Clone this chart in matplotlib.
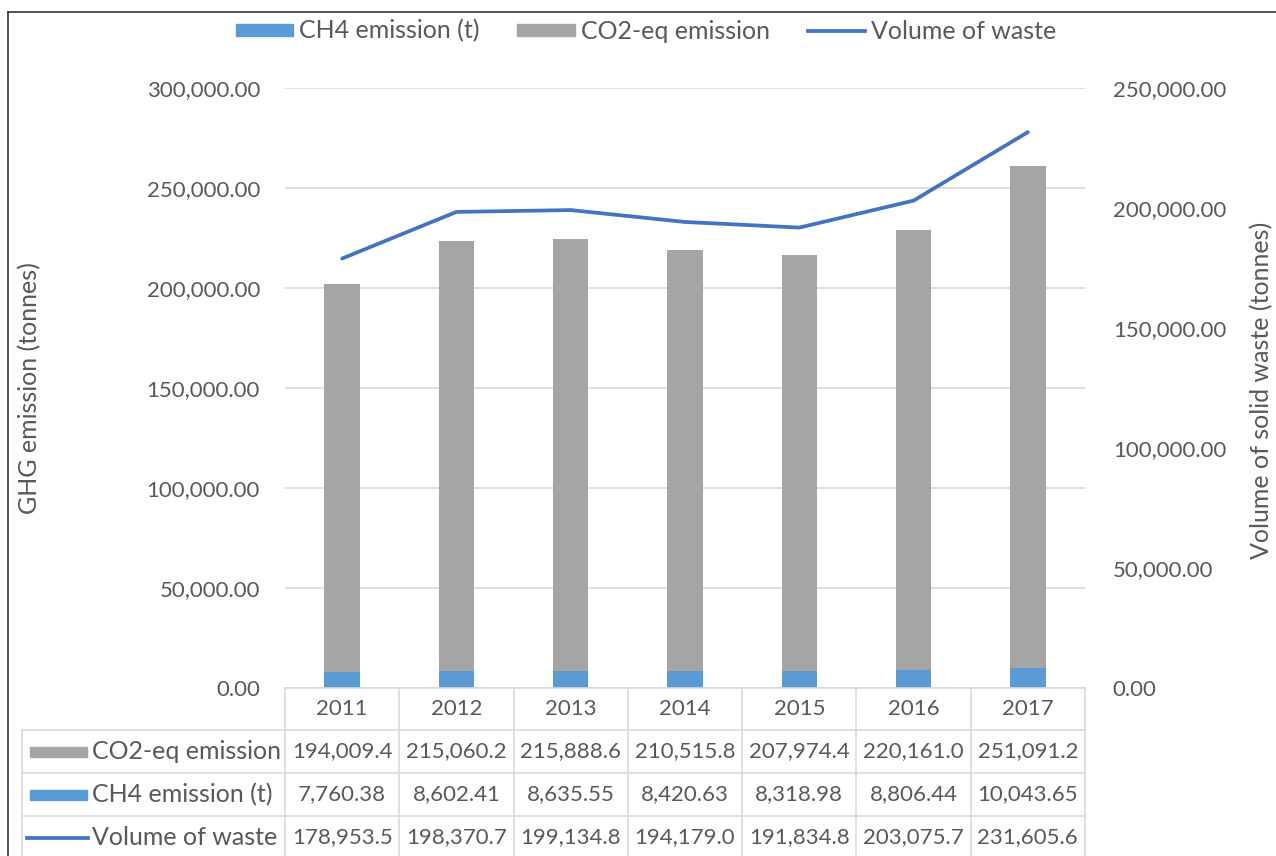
import matplotlib
matplotlib.use("Agg")
import matplotlib.pyplot as plt
from matplotlib.lines import Line2D
from matplotlib.patches import Rectangle
from matplotlib.ticker import FuncFormatter

plt.rcParams["font.family"] = ["Lato", "DejaVu Sans"]

years = ["2011", "2012", "2013", "2014", "2015", "2016", "2017"]
co2_eq = [194009.4, 215060.2, 215888.6, 210515.8, 207974.4, 220161.0, 251091.2]
ch4 = [7760.38, 8602.41, 8635.55, 8420.63, 8318.98, 8806.44, 10043.65]
waste = [178953.5, 198370.7, 199134.8, 194179.0, 191834.8, 203075.7, 231605.6]

TXT = "#595959"
GRID = "#D9D9D9"
BLUE = "#5B9BD5"
GRAY = "#A5A5A5"
LINE = "#4472C4"
FS_NUM = 16   # numbers: ticks and table values
FS_TXT = 18   # words: legend, row names, axis titles

W, H = 1276, 856
fig = plt.figure(figsize=(W / 100, H / 100), dpi=100)


def fx(p):
    return p / W


def fy(p):
    return 1 - p / H


# plot area in pixels
L, R, T, B = 285, 1085, 88, 688
ax = fig.add_axes([fx(L), fy(B), fx(R - L), (B - T) / H])
ax2 = ax.twinx()

x = list(range(len(years)))
ax.bar(x, ch4, width=0.31, color=BLUE, zorder=2)
ax.bar(x, co2_eq, width=0.31, bottom=ch4, color=GRAY, zorder=2)
ax2.plot(x, waste, color=LINE, lw=2.7, solid_capstyle="round")

ax.set_xlim(-0.5, len(years) - 0.5)
ax.set_ylim(0, 300000)
ax2.set_ylim(0, 250000)
ax.set_yticks(range(0, 300001, 50000))
ax2.set_yticks(range(0, 250001, 50000))
fmt = FuncFormatter(lambda v, _: f"{v:,.2f}")
ax.yaxis.set_major_formatter(fmt)
ax2.yaxis.set_major_formatter(fmt)
ax.grid(axis="y", color=GRID, lw=1.2, zorder=0)
ax.set_xticks([])
for a in (ax, ax2):
    for s in a.spines.values():
        s.set_visible(False)
    a.tick_params(axis="y", length=0, labelsize=FS_NUM, labelcolor=TXT)
ax.tick_params(axis="y", pad=18)
ax2.tick_params(axis="y", pad=20)

fig.text(fx(30), fy(388), "GHG emission (tonnes)", rotation=90, ha="center",
         va="center", fontsize=FS_TXT, color=TXT)
fig.text(fx(1262), fy(390), "Volume of solid waste (tonnes)", rotation=90,
         ha="center", va="center", fontsize=FS_TXT, color=TXT)

# data table under the plot
col_w = (R - L) / len(years)
rows_y = [688, 730, 773, 816, 859]
fig.add_artist(Line2D([fx(L), fx(R)], [fy(rows_y[0])] * 2, color=GRID, lw=1.2))
for yy in rows_y[1:]:
    fig.add_artist(Line2D([fx(22), fx(R)], [fy(yy)] * 2, color=GRID, lw=1.2))
for k in range(len(years) + 1):
    xp = L + k * col_w
    fig.add_artist(Line2D([fx(xp)] * 2, [fy(rows_y[0]), fy(H + 5)], color=GRID, lw=1.2))
fig.add_artist(Line2D([fx(22)] * 2, [fy(rows_y[1]), fy(H + 5)], color=GRID, lw=1.2))

for i, yr in enumerate(years):
    fig.text(fx(L + (i + 0.5) * col_w), fy(709), yr, ha="center", va="center",
             fontsize=FS_NUM, color=TXT)

table_rows = [
    ("CO2-eq emission", co2_eq, "{:,.1f}", "patch", GRAY),
    ("CH4 emission (t)", ch4, "{:,.2f}", "patch", BLUE),
    ("Volume of waste", waste, "{:,.1f}", "line", LINE),
]
for r, (name, vals, f, kind, c) in enumerate(table_rows):
    yc = (rows_y[r + 1] + rows_y[r + 2]) / 2
    if kind == "patch":
        fig.add_artist(Rectangle((fx(30), fy(yc + 5)), fx(57), 10 / H, color=c))
    else:
        fig.add_artist(Line2D([fx(27), fx(88)], [fy(yc)] * 2, color=c, lw=2.7))
    fig.text(fx(92), fy(yc), name, ha="left", va="center", fontsize=FS_TXT, color=TXT)
    for i, v in enumerate(vals):
        fig.text(fx(L + (i + 0.5) * col_w), fy(yc), f.format(v), ha="center",
                 va="center", fontsize=FS_NUM, color=TXT)

# legend along the top
handles = [
    Rectangle((0, 0), 1, 1, color=BLUE),
    Rectangle((0, 0), 1, 1, color=GRAY),
    Line2D([], [], color=LINE, lw=2.7),
]
fig.legend(handles, ["CH4 emission (t)", "CO2-eq emission", "Volume of waste"],
           loc="center", bbox_to_anchor=(fx(646), fy(31)), ncol=3, frameon=False,
           fontsize=FS_TXT, labelcolor=TXT, handlelength=2.3, handleheight=0.38,
           handletextpad=0.25, columnspacing=1.5)

# outer frame (left and top edges)
fig.add_artist(Line2D([fx(8), fx(8)], [fy(12), 0], color="#333333", lw=1.2))
fig.add_artist(Line2D([fx(8), 1], [fy(12), fy(12)], color="#333333", lw=1.2))

fig.savefig("out.png", dpi=100)
